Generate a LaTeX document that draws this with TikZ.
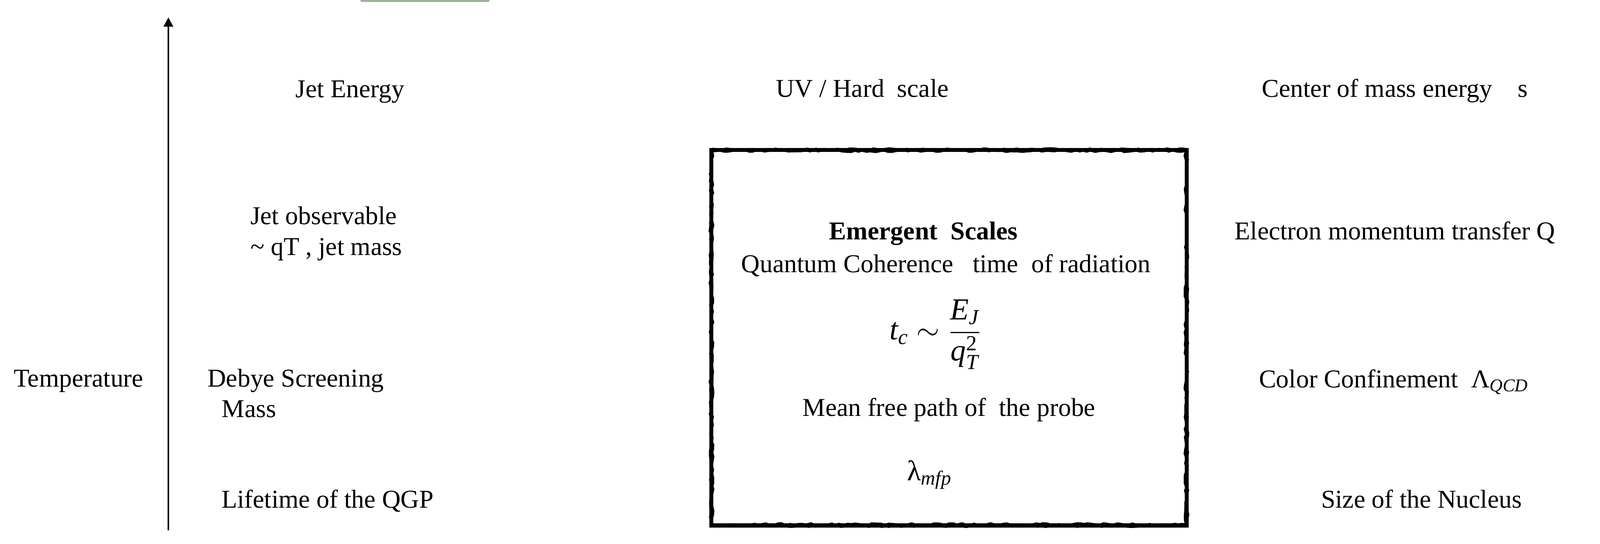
\documentclass[tikz,border=0pt]{standalone}
\usepackage{amsmath}
\usepackage{fontspec}
\setmainfont{Liberation Serif}
\usetikzlibrary{arrows.meta,decorations.pathmorphing}
\newcommand\ti[1]{\textit{#1}}
\definecolor{barGreen}{RGB}{155,180,155}
\tikzset{
  lbl/.style={font=\fontsize{12.6}{15}\selectfont, inner sep=0pt, text=black, anchor=base},
  lblw/.style={lbl, anchor=base west},
  roughbox/.style={draw=black, line width=2pt},
  roughedge/.style={draw=black, line width=0.6pt, decorate, decoration={random steps, segment length=2pt, amplitude=0.5pt}},
  axis/.style={line width=0.9pt, -{Triangle[width=4.6pt,length=4.6pt]}}
}
\begin{document}
\begin{tikzpicture}[x=0.5pt,y=-0.5pt]
\useasboundingbox (0,0) rectangle (1568,533);
% green bar at top
\fill[barGreen, rounded corners=1pt] (353,-6) rectangle (480,2);
% axis
\coordinate (ab) at (165,520);
\coordinate (at) at (165,17);
\draw[axis] (ab) -- (at);
% box
\draw[roughbox] (697,147) rectangle (1163,515);
\draw[roughedge] (696,146) rectangle (1164,516);
\draw[roughedge] (698.5,148.5) rectangle (1161.5,513.5);
% left column
\node[lbl] (temp) at (77,379) {Temperature};
\node[lbl] (jetE) at (343,95.5) {Jet Energy};
\node[lblw] (jobs1) at (245,220) {Jet observable};
\node[lblw] (jobs2) at (245,250) {\textasciitilde\ qT , jet mass};
\node[lblw] (deb1) at (203,379) {Debye Screening};
\node[lblw] (deb2) at (217,409) {Mass};
\node[lbl] (life) at (321,498) {Lifetime of the QGP};
% middle column
\node[lbl] (uv) at (845,95) {UV / Hard\ \ scale};
\node[lbl] (em) at (905,235) {\textbf{Emergent\ \ Scales}};
\node[lbl] (qc) at (927,267) {Quantum Coherence\ \ \ time\ \ of radiation};
\node[lbl, font=\fontsize{15}{18}\selectfont] (tc) at (917,333) {$\ti{t}_{\ti{c}} \sim \dfrac{\ti{E}_{\ti{J}}}{\ti{q}^{\textup{2}}_{\ti{T}}}$};
\node[lbl] (mfp) at (930,408) {Mean free path of\ \ the probe};
\node[lbl, font=\fontsize{14}{17}\selectfont] (lam) at (911,471) {$\text{λ}_{\ti{mfp}}$};
% right column
\node[lbl] (cm) at (1367,95) {Center of mass energy\ \ \ \ s};
\node[lbl] (el) at (1367,235) {Electron momentum transfer Q};
\node[lbl] (cc) at (1366,380) {Color Confinement\ \ Λ$_{\ti{QCD}}$};
\node[lbl] (nuc) at (1393,498) {Size of the Nucleus};
\end{tikzpicture}
\end{document}
